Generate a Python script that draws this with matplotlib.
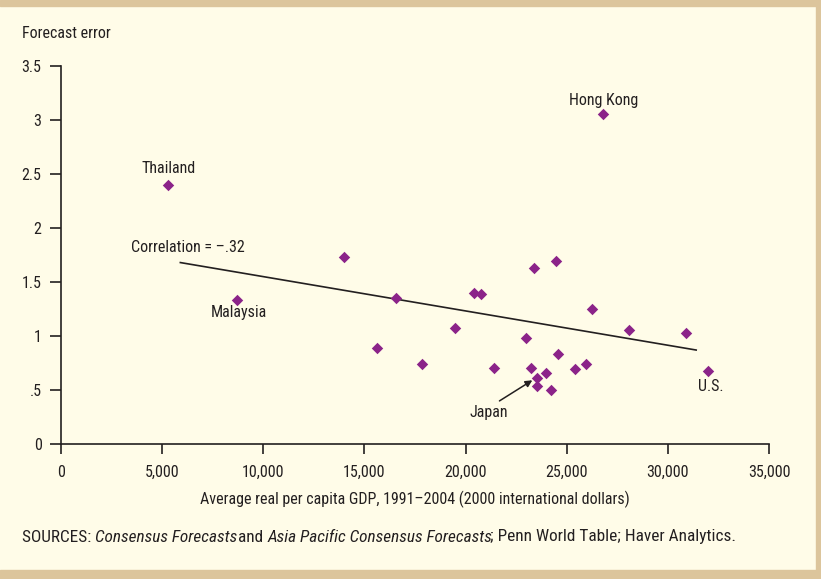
import matplotlib.pyplot as plt
from matplotlib.patches import Rectangle
import numpy as np

plt.rcParams['font.family'] = ['Roboto Condensed', 'DejaVu Sans']

# average real per capita GDP (2000 intl $) and forecast error
gdp = [5300, 26800, 8700, 14000, 15600, 16550, 17850, 19480, 20420, 20760,
       21400, 22990, 23380, 24470, 26230, 28060, 30880, 24590, 23250, 23960,
       25410, 25970, 23520, 23530, 24240, 31980]
err = [2.40, 3.06, 1.33, 1.73, 0.89, 1.35, 0.74, 1.07, 1.40, 1.39,
       0.70, 0.98, 1.63, 1.69, 1.25, 1.06, 1.03, 0.83, 0.70, 0.66,
       0.69, 0.74, 0.61, 0.54, 0.50, 0.68]

# fitted line endpoints
fit_x = [5900, 31400]
fit_y = [1.68, 0.87]

xticks = [0, 5000, 10000, 15000, 20000, 25000, 30000, 35000]
xtick_labels = ['0', '5,000', '10,000', '15,000', '20,000', '25,000', '30,000', '35,000']
yticks = [0, 0.5, 1, 1.5, 2, 2.5, 3, 3.5]
ytick_labels = ['0', '.5', '1', '1.5', '2', '2.5', '3', '3.5']

cream = '#FFFCE8'
tan = '#DCC59C'
purple = '#8B2389'
dark = '#231F20'
fs = 11.5

fig = plt.figure(figsize=(8.21, 5.79), dpi=100, facecolor=cream)

# tan frame strips
fig.patches.append(Rectangle((0, 1 - 6 / 579), 1, 6 / 579, transform=fig.transFigure,
                             color=tan, zorder=0))
fig.patches.append(Rectangle((0, 0), 1, 9 / 579, transform=fig.transFigure,
                             color=tan, zorder=0))
fig.patches.append(Rectangle((1 - 5 / 821, 0), 5 / 821, 1, transform=fig.transFigure,
                             color=tan, zorder=0))

ax = fig.add_axes([61 / 821, 1 - 444 / 579, 708 / 821, 378 / 579])
ax.set_facecolor(cream)

ax.scatter(gdp, err, marker='D', s=34, color=purple, linewidths=0, zorder=3)
ax.plot(fit_x, fit_y, color=dark, linewidth=1.2, zorder=2)

ax.set_xlim(0, 35000)
ax.set_ylim(0, 3.5)
ax.set_xticks(xticks)
ax.set_xticklabels(xtick_labels)
ax.set_yticks(yticks)
ax.set_yticklabels(ytick_labels)
ax.spines['top'].set_visible(False)
ax.spines['right'].set_visible(False)
for s in ['left', 'bottom']:
    ax.spines[s].set_color(dark)
    ax.spines[s].set_linewidth(1.2)
ax.tick_params(axis='y', direction='out', length=8, width=1.2, pad=6,
               labelsize=fs, colors=dark)
ax.tick_params(axis='x', direction='out', length=7, width=1.2, pad=8,
               labelsize=fs, colors=dark)
ax.set_xlabel('Average real per capita GDP, 1991\u20132004 (2000 international dollars)',
              fontsize=fs, color=dark, labelpad=8)

fig.text(22 / 821, 1 - 34 / 579, 'Forecast error', fontsize=fs, color=dark,
         va='center', ha='left')

# annotations
ax.text(26800, 3.18, 'Hong Kong', fontsize=fs, color=dark, ha='center', va='center')
ax.text(5300, 2.55, 'Thailand', fontsize=fs, color=dark, ha='center', va='center')
ax.text(6250, 1.82, 'Correlation = \u2013.32', fontsize=fs, color=dark,
        ha='center', va='center')
ax.text(8800, 1.22, 'Malaysia', fontsize=fs, color=dark, ha='center', va='center')
ax.text(32100, 0.53, 'U.S.', fontsize=fs, color=dark, ha='center', va='center')
ax.annotate('Japan', xy=(23300, 0.59), xytext=(21150, 0.29), fontsize=fs,
            color=dark, ha='center', va='center',
            arrowprops=dict(arrowstyle='-|>', color=dark, lw=1.1,
                            shrinkA=2, shrinkB=0, mutation_scale=10,
                            relpos=(0.6, 1.0)))

# source line with mixed italic pieces
pieces = [('SOURCES: ', 'normal'), ('Consensus Forecasts', 'italic'), (' and ', 'normal'),
          ('Asia Pacific Consensus Forecasts', 'italic'),
          ('; Penn World Table; Haver Analytics.', 'normal')]
fig.canvas.draw()
renderer = fig.canvas.get_renderer()
x = 22
for txt, style in pieces:
    t = fig.text(x / fig.bbox.width, 1 - 537 / 579, txt, fontsize=12.4, color=dark,
                 style=style, va='center', ha='left')
    bb = t.get_window_extent(renderer=renderer)
    x = bb.x1 - (3 if style == 'italic' else 0)

fig.savefig('out.png', dpi=100, facecolor=cream)
